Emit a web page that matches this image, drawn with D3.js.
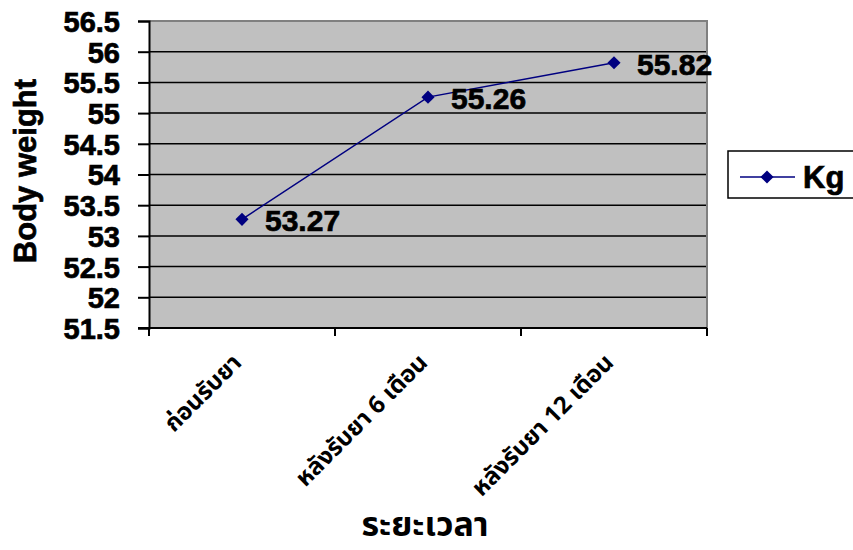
<!DOCTYPE html>
<html>
<head>
<meta charset="utf-8">
<script src="https://cdn.jsdelivr.net/npm/d3@7"></script>
<style>
  html, body { margin: 0; padding: 0; background: #ffffff; }
  svg { display: block; }
  text { font-family: "Liberation Sans", Arial, sans-serif; font-weight: bold; fill: #000; }
  .heavy { stroke: #000; stroke-width: 0.7px; }
  .thai { font-family: "Noto Sans Thai", "Noto Sans", "DejaVu Sans", sans-serif; }
</style>
</head>
<body>
<svg id="chart" width="853" height="550"></svg>
<script>
// Body weight over the treatment period
const categories = ["ก่อนรับยา", "หลังรับยา 6 เดือน", "หลังรับยา 12 เดือน"];
const weights = [53.27, 55.26, 55.82];
const yTicks = [51.5, 52, 52.5, 53, 53.5, 54, 54.5, 55, 55.5, 56, 56.5];
const seriesName = "Kg";
const yTitle = "Body weight";
const xTitle = "ระยะเวลา";

const svg = d3.select("#chart");
const plot = { left: 149, top: 21, right: 707, bottom: 328 };

const x = d3.scaleBand().domain(categories).range([plot.left, plot.right]).padding(0);
const y = d3.scaleLinear().domain([51.5, 56.5]).range([plot.bottom, plot.top]);

// plot background
svg.append("rect")
  .attr("x", plot.left).attr("y", plot.top)
  .attr("width", plot.right - plot.left).attr("height", plot.bottom - plot.top)
  .attr("fill", "#c0c0c0");

// horizontal gridlines
svg.append("g").selectAll("line").data(yTicks.slice(1, -1)).join("line")
  .attr("x1", plot.left).attr("x2", plot.right)
  .attr("y1", d => y(d)).attr("y2", d => y(d))
  .attr("stroke", "#000").attr("stroke-width", 1.5);

// top and right frame
svg.append("path")
  .attr("d", `M${plot.left},${plot.top}H${plot.right}V${plot.bottom}`)
  .attr("fill", "none").attr("stroke", "#808080").attr("stroke-width", 2);

// y axis
const yAxis = svg.append("g")
  .attr("transform", `translate(${plot.left},0)`)
  .call(d3.axisLeft(y).tickValues(yTicks).tickFormat(d3.format("")).tickSize(11).tickPadding(18));
yAxis.select(".domain").attr("stroke", "#000").attr("stroke-width", 2);
yAxis.selectAll(".tick line").attr("stroke", "#000").attr("stroke-width", 2);
yAxis.selectAll(".tick text")
  .attr("class", "heavy")
  .attr("font-size", 29).attr("font-family", "'Liberation Sans', Arial, sans-serif")
  .attr("font-weight", "bold").attr("fill", "#000").attr("dy", "0.36em");

// x axis: ticks on category boundaries
const xAxisG = svg.append("g").attr("transform", `translate(0,${plot.bottom})`);
xAxisG.append("line")
  .attr("x1", plot.left - 11).attr("x2", plot.right)
  .attr("y1", 0).attr("y2", 0)
  .attr("stroke", "#000").attr("stroke-width", 2);
const boundaries = categories.map(c => x(c)).concat([x(categories[categories.length - 1]) + x.bandwidth()]);
xAxisG.selectAll("line.tick").data(boundaries).join("line")
  .attr("class", "tick")
  .attr("x1", d => d).attr("x2", d => d)
  .attr("y1", 0).attr("y2", 8)
  .attr("stroke", "#000").attr("stroke-width", 2);

// rotated category labels
xAxisG.selectAll("text.cat").data(categories).join("text")
  .attr("class", "cat thai")
  .attr("text-anchor", "end")
  .attr("font-size", 24)
  .attr("font-weight", "bold")
  .attr("transform", d => `translate(${x(d) + x.bandwidth() / 2 + 1},${36}) rotate(-45)`)
  .text(d => d);

// series line
const cx = d => x(d) + x.bandwidth() / 2;
const pts = categories.map((c, i) => [cx(c), y(weights[i])]);
svg.append("path")
  .attr("d", d3.line()(pts))
  .attr("fill", "none").attr("stroke", "#000080").attr("stroke-width", 1.5);

// diamond markers
const diamond = d3.symbol().type(d3.symbolDiamond2).size(110);
svg.append("g").selectAll("path").data(pts).join("path")
  .attr("d", diamond)
  .attr("transform", d => `translate(${d[0]},${d[1]})`)
  .attr("fill", "#000080");

// value labels
svg.append("g").selectAll("text").data(weights).join("text")
  .attr("class", "heavy")
  .attr("x", (d, i) => pts[i][0] + 23)
  .attr("y", (d, i) => pts[i][1] + 12)
  .attr("font-size", 30)
  .attr("font-weight", "bold")
  .text(d => d.toFixed(2));

// axis titles
svg.append("text")
  .attr("class", "heavy")
  .attr("transform", `translate(36,171) rotate(-90)`)
  .attr("text-anchor", "middle")
  .attr("font-size", 31)
  .attr("font-weight", "bold")
  .text(yTitle);

svg.append("text")
  .attr("class", "thai")
  .attr("x", 425).attr("y", 536)
  .attr("text-anchor", "middle")
  .attr("font-size", 34)
  .attr("font-weight", "bold")
  .text(xTitle);

// legend
const lg = svg.append("g").attr("transform", "translate(728,151)");
lg.append("rect").attr("x", 0).attr("y", 0).attr("width", 140).attr("height", 47)
  .attr("fill", "#fff").attr("stroke", "#000").attr("stroke-width", 1.5);
lg.append("line").attr("x1", 12).attr("x2", 67).attr("y1", 26).attr("y2", 26)
  .attr("stroke", "#000080").attr("stroke-width", 1.5);
lg.append("path").attr("d", diamond).attr("transform", "translate(39,26)").attr("fill", "#000080");
lg.append("text").attr("class", "heavy").attr("x", 75).attr("y", 37)
  .attr("font-size", 31).attr("font-weight", "bold").text(seriesName);
</script>
</body>
</html>
